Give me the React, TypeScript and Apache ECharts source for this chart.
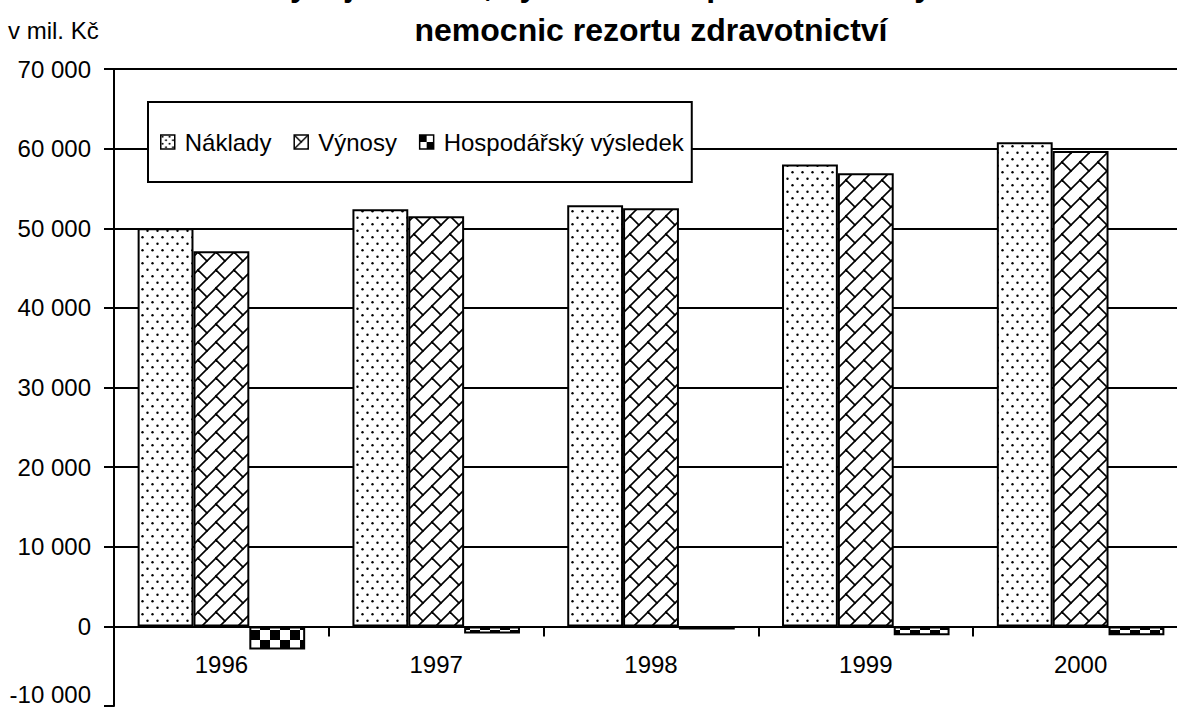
import React, { useEffect, useRef } from "react";
import * as echarts from "echarts";

const years = ["1996", "1997", "1998", "1999", "2000"];
const naklady = [50000, 52400, 52900, 58000, 60800];
const vynosy = [47100, 51500, 52500, 56900, 59700];
const vysledek = [-2900, -900, -400, -1100, -1100];
const seriesNames = ["Náklady", "Výnosy", "Hospodářský výsledek"];
const titleLine1 = "Vývoj nákladů, výnosů a hospodářského výsledku";
const titleLine2 = "nemocnic rezortu zdravotnictví";
const unitLabel = "v mil. Kč";
const yMin = -10000;
const yMax = 70000;
const yStep = 10000;

const FONT = "'Liberation Sans', Arial, sans-serif";

const GRID_TOP = 69;
const GRID_H = 637;

function fmt(v: number): string {
  const s = String(Math.abs(v)).replace(/\B(?=(\d{3})+(?!\d))/g, " ");
  return (v < 0 ? "-" : "") + s;
}

function makeCanvas(w: number, h: number, draw: (ctx: CanvasRenderingContext2D) => void) {
  const c = document.createElement("canvas");
  c.width = w;
  c.height = h;
  const ctx = c.getContext("2d")!;
  ctx.fillStyle = "#ffffff";
  ctx.fillRect(0, 0, w, h);
  draw(ctx);
  return c;
}

function dotPattern(w: number, h: number, r: number) {
  const c = makeCanvas(w, h, (ctx) => {
    ctx.fillStyle = "#000";
    const pts = [
      [w * 0.25, h * 0.25],
      [w * 0.75, h * 0.75],
    ];
    for (const [x, y] of pts) {
      ctx.beginPath();
      ctx.arc(x, y, r, 0, Math.PI * 2);
      ctx.fill();
    }
  });
  return { image: c, repeat: "repeat", imageWidth: w, imageHeight: h };
}

function brickPattern(s: number, lw: number) {
  const c = makeCanvas(s, s, (ctx) => {
    ctx.strokeStyle = "#000";
    ctx.lineWidth = lw;
    ctx.lineCap = "square";
    for (const dx of [-s, 0, s]) {
      for (const dy of [-s, 0, s]) {
        ctx.beginPath();
        ctx.moveTo(dx, dy + s);
        ctx.lineTo(dx + s, dy);
        ctx.stroke();
        ctx.beginPath();
        ctx.moveTo(dx, dy);
        ctx.lineTo(dx + s / 2, dy + s / 2);
        ctx.stroke();
      }
    }
  });
  return { image: c, repeat: "repeat", imageWidth: s, imageHeight: s };
}

function checkerPattern(s: number) {
  const c = makeCanvas(s * 2, s * 2, (ctx) => {
    ctx.fillStyle = "#000";
    ctx.fillRect(0, 0, s, s);
    ctx.fillRect(s, s, s, s);
  });
  return { image: c, repeat: "repeat", imageWidth: s * 2, imageHeight: s * 2 };
}

export default function App() {
  const ref = useRef<HTMLDivElement>(null);

  useEffect(() => {
    if (!ref.current) return;
    const chart = echarts.init(ref.current, null, { renderer: "svg" });

    const fills = [dotPattern(10, 13, 1.2), brickPattern(18, 1.6), checkerPattern(10)];
    const legendFills = [dotPattern(7, 7, 1), brickPattern(14, 1.4), checkerPattern(7)];
    const values = [naklady, vynosy, vysledek];

    // distance of the zero line from the bottom of the grid
    const zeroOffset = (GRID_H * (0 - yMin)) / (yMax - yMin);

    const option: any = {
      animation: false,
      backgroundColor: "#ffffff",
      textStyle: { fontFamily: FONT, color: "#000" },
      graphic: [
        {
          type: "text",
          x: 651,
          y: 1,
          style: {
            text: titleLine1,
            fill: "#000",
            font: `bold 32px ${FONT}`,
            textAlign: "center",
            textVerticalAlign: "bottom",
          },
        },
        {
          type: "text",
          x: 651,
          y: 30,
          style: {
            text: titleLine2,
            fill: "#000",
            font: `bold 32px ${FONT}`,
            textAlign: "center",
            textVerticalAlign: "middle",
          },
        },
        {
          type: "text",
          x: 8,
          y: 30,
          style: {
            text: unitLabel,
            fill: "#000",
            font: `24px ${FONT}`,
            textAlign: "left",
            textVerticalAlign: "middle",
          },
        },
      ],
      legend: {
        left: 148,
        top: 102,
        orient: "horizontal",
        selectedMode: false,
        backgroundColor: "#fff",
        borderColor: "#000",
        borderWidth: 2,
        padding: [28, 8, 28, 12],
        itemGap: 22,
        itemWidth: 14,
        itemHeight: 14,
        icon: "rect",
        textStyle: { fontSize: 24, color: "#000", fontFamily: FONT, padding: [0, 0, 0, 5] },
        data: seriesNames.map((n, i) => ({
          name: n,
          itemStyle: { color: legendFills[i], borderColor: "#000", borderWidth: 1.5 },
        })),
        z: 10,
      },
      grid: {
        left: 114,
        top: GRID_TOP,
        width: 1074,
        height: GRID_H,
        containLabel: false,
        outerBoundsMode: "none",
      },
      xAxis: {
        type: "category",
        data: years,
        position: "bottom",
        offset: -zeroOffset,
        axisLine: { show: true, onZero: false, lineStyle: { color: "#000", width: 2 } },
        axisTick: { show: true, inside: false, length: 10, lineStyle: { color: "#000", width: 2 } },
        axisLabel: { color: "#000", fontSize: 24, fontFamily: FONT, margin: 26 },
        splitLine: { show: false },
        z: 5,
      },
      yAxis: {
        type: "value",
        min: yMin,
        max: yMax,
        interval: yStep,
        axisLine: { show: true, lineStyle: { color: "#000", width: 2 } },
        axisTick: { show: true, inside: false, length: 10, lineStyle: { color: "#000", width: 2 } },
        axisLabel: {
          color: "#000",
          fontSize: 24,
          fontFamily: FONT,
          margin: 23,
          verticalAlignMinLabel: "bottom",
          formatter: (v: number) => fmt(v),
        },
        splitLine: {
          show: true,
          showMinLine: false,
          lineStyle: { color: "#000", width: 2 },
        },
      },
      series: seriesNames.map((n, i) => ({
        name: n,
        type: "bar",
        data: values[i],
        barGap: "0%",
        barCategoryGap: "22%",
        itemStyle: { color: fills[i], borderColor: "#000", borderWidth: 2 },
        z: 3,
      })),
    };

    chart.setOption(option);
    return () => chart.dispose();
  }, []);

  return (
    <div
      ref={ref}
      style={{ position: "absolute", left: 0, top: 0, width: 1177, height: 716, background: "#fff" }}
    />
  );
}
